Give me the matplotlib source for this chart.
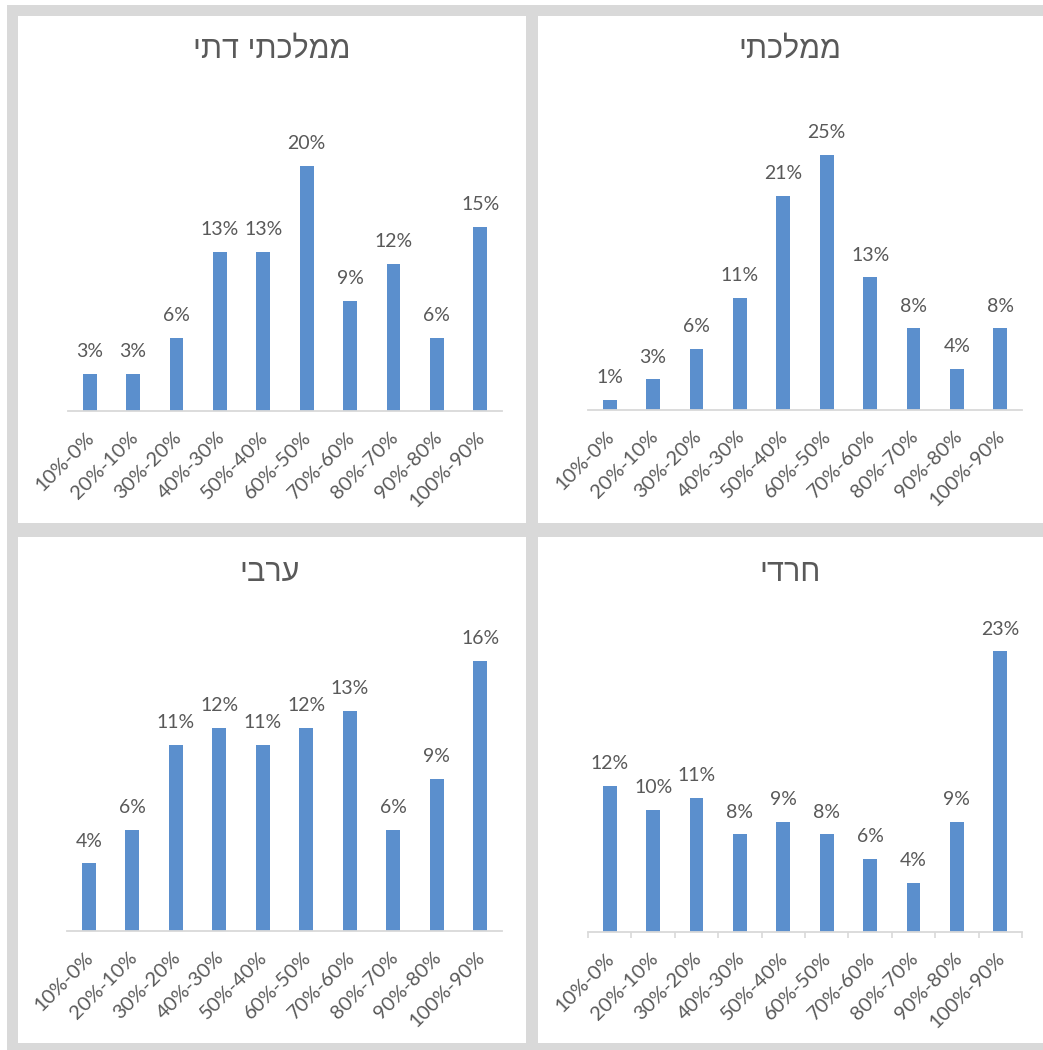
import matplotlib
matplotlib.use("Agg")
import matplotlib.pyplot as plt
from matplotlib.patches import Rectangle
from matplotlib.transforms import offset_copy
import numpy as np

# ---------------- data ----------------
categories = ["10%-0%", "20%-10%", "30%-20%", "40%-30%", "50%-40%",
              "60%-50%", "70%-60%", "80%-70%", "90%-80%", "100%-90%"]

title_tl = "ממלכתי דתי"
title_tr = "ממלכתי"
title_bl = "ערבי"
title_br = "חרדי"

values_tl = [3, 3, 6, 13, 13, 20, 9, 12, 6, 15]
values_tr = [1, 3, 6, 11, 21, 25, 13, 8, 4, 8]
values_bl = [4, 6, 11, 12, 11, 12, 13, 6, 9, 16]
values_br = [12, 10, 11, 8, 9, 8, 6, 4, 9, 23]

# ---------------- style ----------------
W, H = 1043, 1050
BAR = "#5B8FCD"
TXT = "#595959"
GRAY = "#D9D9D9"
NUMFONT = ["Lato", "DejaVu Sans"]
HEBFONT = ["Liberation Sans", "DejaVu Sans"]


def rtl(s):
    # matplotlib has no bidi support: reverse for visual right-to-left order
    return s[::-1]


fig = plt.figure(figsize=(W / 100, H / 100), dpi=100)
fig.patch.set_facecolor(GRAY)


def px_rect(x0, y0, x1, y1, color):
    fig.patches.append(Rectangle((x0 / W, 1 - y1 / H), (x1 - x0) / W, (y1 - y0) / H,
                                 transform=fig.transFigure, facecolor=color,
                                 edgecolor="none", zorder=-5))


# outer white margins (crop) and white panels
px_rect(0, 0, W, 5, "white")
px_rect(0, 0, 7, H, "white")
panels = [(18, 16, 526, 523), (538, 16, W, 523), (18, 537, 526, 1043), (538, 537, W, 1043)]
for p in panels:
    px_rect(*p, "white")

# axes specs: (x0, x1, baseline_y, px_per_unit, ymax, values, title, title_x, title_y, ticks)
specs = [
    (68, 502, 411, 12.25, 25, values_tl, title_tl, 272, 50, False),
    (588, 1022, 410, 10.2, 30, values_tr, title_tr, 790, 50, False),
    (67, 502, 931, 16.9, 18, values_bl, title_bl, 270, 573, False),
    (588, 1022, 932, 12.2, 25, values_br, title_br, 790, 573, True),
]

for x0, x1, yb, ppu, ymax, vals, title, tx, ty, ticks in specs:
    ytop = yb - ppu * ymax
    ax = fig.add_axes([x0 / W, 1 - yb / H, (x1 - x0) / W, (yb - ytop) / H])
    ax.set_zorder(1)
    ax.set_facecolor("none")
    x = np.arange(len(categories))
    ax.bar(x, vals, width=0.32, color=BAR, zorder=2)
    ax.set_xlim(-0.5, len(categories) - 0.5)
    ax.set_ylim(0, ymax)
    for s in ["top", "left", "right"]:
        ax.spines[s].set_visible(False)
    ax.spines["bottom"].set_color(GRAY)
    ax.spines["bottom"].set_linewidth(1.3)
    ax.set_yticks([])
    if ticks:
        ax.set_xticks(np.arange(-0.5, len(categories), 1))
        ax.set_xticklabels([])
        ax.tick_params(axis="x", length=4.5, width=1.2, color=GRAY, direction="out")
    else:
        ax.set_xticks([])
    # data labels
    for xi, v in zip(x, vals):
        ax.annotate(f"{v}%", (xi, v), xytext=(0, 10), textcoords="offset points",
                    ha="center", va="bottom", fontsize=14, color=TXT, family=NUMFONT,
                    annotation_clip=False)
    # category labels
    tr = offset_copy(ax.transData, fig=fig, x=2, y=-24, units="dots")
    for xi, c in zip(x, categories):
        ax.text(xi, 0, c, transform=tr, rotation=45, rotation_mode="anchor",
                ha="right", va="center", fontsize=14.5, color=TXT, family=NUMFONT,
                clip_on=False)
    fig.text(tx / W, 1 - ty / H, rtl(title), ha="center", va="center",
             fontsize=22, color=TXT, family=HEBFONT, zorder=3)

fig.savefig("out.png", dpi=100, facecolor=fig.get_facecolor())
